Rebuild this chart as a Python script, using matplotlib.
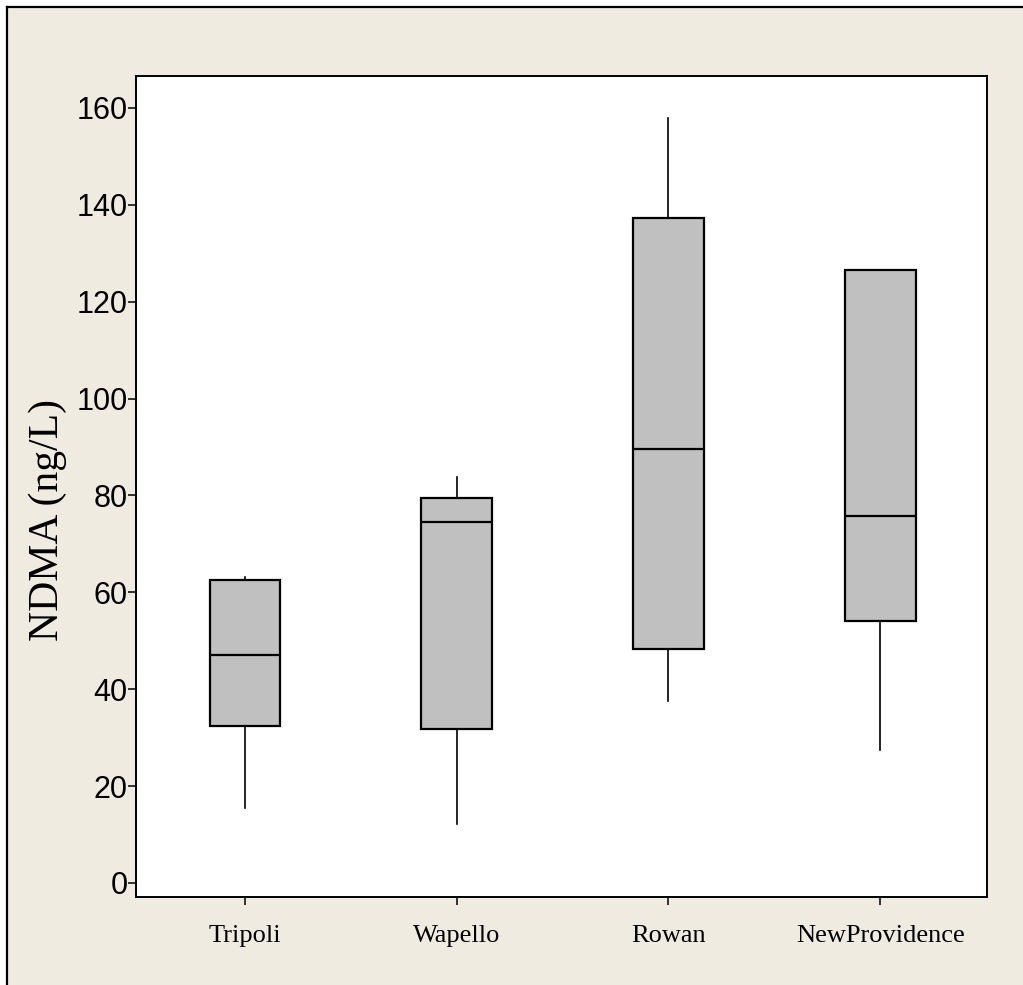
import matplotlib
matplotlib.use("Agg")
import matplotlib.pyplot as plt
from matplotlib.patches import Rectangle
from matplotlib.lines import Line2D

# data (ng/L)
sites = ["Tripoli", "Wapello", "Rowan", "NewProvidence"]
whisker_low = [15.5, 12.1, 37.5, 27.5]
q1 = [32.4, 31.7, 48.2, 54.1]
median = [47.1, 74.6, 89.5, 75.7]
q3 = [62.5, 79.4, 137.2, 126.5]
whisker_high = [63.1, 83.8, 157.9, 126.6]

y_ticks = [0, 20, 40, 60, 80, 100, 120, 140, 160]

BEIGE = "#efebe1"
BOX_GREY = "#c0c0c0"


def box_stats():
    stats = []
    for i, name in enumerate(sites):
        stats.append({
            "label": name,
            "whislo": whisker_low[i],
            "q1": q1[i],
            "med": median[i],
            "q3": q3[i],
            "whishi": whisker_high[i],
            "fliers": [],
        })
    return stats


def main():
    fig = plt.figure(figsize=(10.23, 9.85), dpi=100)
    fig.patch.set_facecolor("white")

    # beige panel, black frame only shows on top and left
    x0 = 6.5 / 1023
    y1 = 1 - 6.5 / 985
    panel = Rectangle((x0, 0), 1 - x0, y1, transform=fig.transFigure,
                      facecolor=BEIGE, edgecolor="none", zorder=-5)
    fig.patches.append(panel)
    fig.lines.append(Line2D([x0, x0], [0, y1], transform=fig.transFigure,
                            color="black", linewidth=1.6, zorder=-4))
    fig.lines.append(Line2D([x0, 1], [y1, y1], transform=fig.transFigure,
                            color="black", linewidth=1.6, zorder=-4))

    ax = fig.add_axes([136 / 1023, 1 - 897 / 985, 851 / 1023, 821 / 985])
    ax.set_zorder(2)
    ax.set_facecolor("white")

    ax.bxp(box_stats(), positions=range(1, len(sites) + 1), widths=0.335,
           showcaps=False, showfliers=False, patch_artist=True,
           boxprops=dict(facecolor=BOX_GREY, edgecolor="black", linewidth=1.6),
           medianprops=dict(color="black", linewidth=1.6),
           whiskerprops=dict(color="black", linewidth=1.2))

    ax.set_xlim(0.485, 4.505)
    ax.set_ylim(-2.9, 166.6)
    ax.set_yticks(y_ticks)
    ax.set_xticks(range(1, len(sites) + 1))
    ax.set_xticklabels(sites)

    for spine in ax.spines.values():
        spine.set_linewidth(1.4)
        spine.set_color("black")

    ax.tick_params(axis="y", direction="out", length=6, width=1.1, pad=0,
                   labelsize=22)
    ax.tick_params(axis="x", direction="out", length=6, width=1.1, pad=14,
                   labelsize=19)

    for lab in ax.get_yticklabels():
        lab.set_family(["Liberation Sans"])
    for lab in ax.get_xticklabels():
        lab.set_family(["Liberation Serif"])

    ax.set_ylabel("NDMA (ng/L)", family="Liberation Serif", fontsize=30,
                  va="center")
    ax.yaxis.set_label_coords((48 - 136) / 851, (897 - 520) / 821)

    fig.savefig("out.png", dpi=100, facecolor=fig.get_facecolor())


if __name__ == "__main__":
    main()
